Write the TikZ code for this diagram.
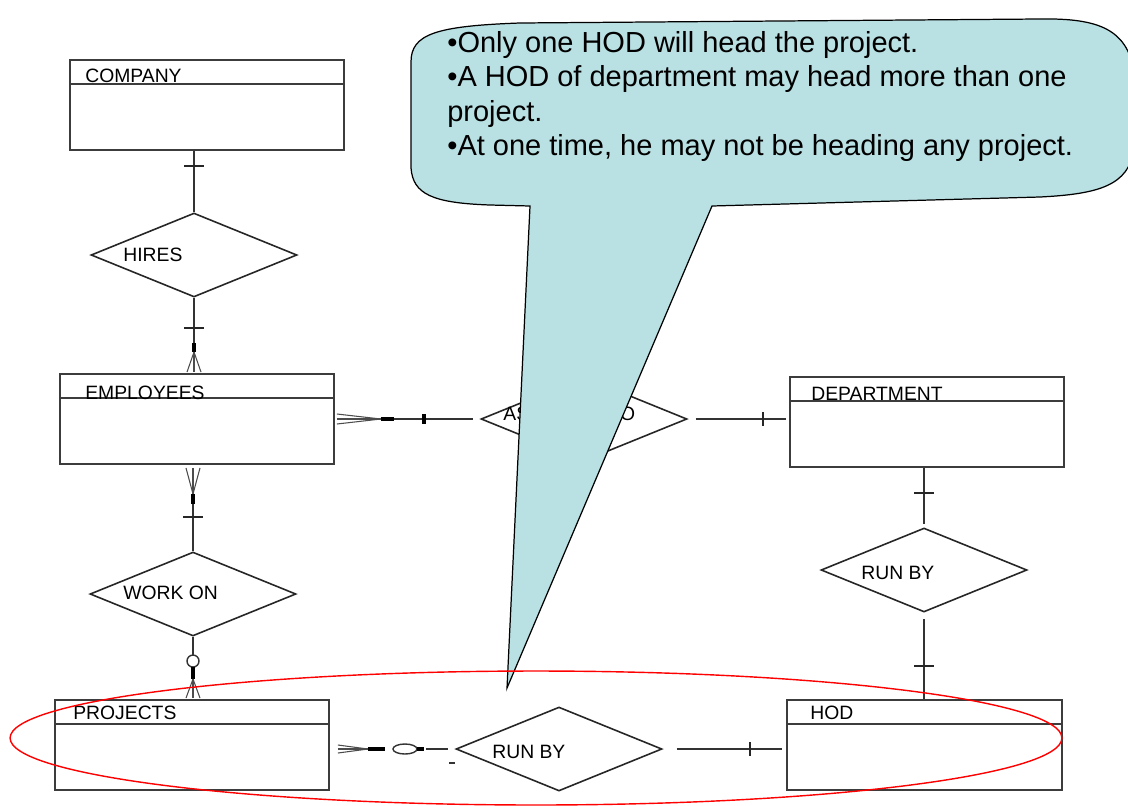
\documentclass[tikz,border=0pt]{standalone}
\usepackage{fontspec}
\setmainfont{Liberation Sans}
\usetikzlibrary{shapes.geometric,calc}
\definecolor{callfill}{RGB}{185,224,227}
\definecolor{lineg}{RGB}{60,60,60}
\begin{document}
\begin{tikzpicture}[x=0.02cm,y=-0.02cm,
  entity/.style={draw=lineg,line width=1.1pt,minimum width=5.48cm,minimum height=1.8cm,inner sep=0pt,fill=white},
  hdr/.style={draw=lineg,line width=1pt},
  rel/.style={shape=diamond,draw=black!85,line width=0.9pt,minimum width=4.12cm,minimum height=1.68cm,inner sep=0pt},
  lbl/.style={anchor=base west,inner sep=0pt,font=\fontsize{11}{13}\selectfont},
  conn/.style={draw=black!80,line width=0.8pt},
  tickmark/.style={draw=black!85,line width=0.9pt},
  barmark/.style={draw=black,line width=2.6pt},
  prong/.style={draw=black!70,line width=0.6pt},
  callout/.style={fill=callfill,draw=black,line width=0.7pt},
  notetext/.style={anchor=north west,inner sep=0pt,align=left,font=\fontsize{16.5}{19.6}\selectfont}
]
\clip (0,0) rectangle (1128,805);
\fill[white] (0,0) rectangle (1128,805);

% entities
\node[entity] (COMPANY) at (207,105) {};
\node[entity] (EMPLOYEES) at (197,419) {};
\node[entity] (DEPARTMENT) at (927,422) {};
\node[entity] (PROJECTS) at (192,745) {};
\node[entity,minimum width=5.5cm] (HOD) at (924.5,745) {};
\foreach \e in {COMPANY,EMPLOYEES,DEPARTMENT,PROJECTS,HOD}
  \draw[hdr] ($(\e.north west)+(0,25)$) -- ($(\e.north east)+(0,25)$);
\node[lbl] (tCOMPANY) at (85,82) {COMPANY};
\node[lbl] (tEMPLOYEES) at (85,399) {EMPLOYEES};
\node[lbl] (tDEPARTMENT) at (811,400) {DEPARTMENT};
\node[lbl] (tPROJECTS) at (73,719) {PROJECTS};
\node[lbl] (tHOD) at (810,719) {HOD};

% relationships
\node[rel] (HIRES) at (194,255) {};
\node[rel] (ASSIGNED) at (584,419) {};
\node[rel] (WORKON) at (193,594) {};
\node[rel] (RUNBYA) at (924,570) {};
\node[rel] (RUNBYB) at (559,749) {};
\node[lbl] (tHIRES) at (123,261) {HIRES};
\node[lbl] (tASSIGNED) at (503,420) {ASSIGNED TO};
\node[lbl] (tWORKON) at (123,599) {WORK ON};
\node[lbl] (tRUNBYA) at (861,579) {RUN BY};
\node[lbl] (tRUNBYB) at (492,758) {RUN BY};

% COMPANY - HIRES
\coordinate (c1) at (HIRES.north |- COMPANY.south);
\draw[conn] (c1) -- (HIRES.north);
\draw[tickmark] ($(c1)+(-10,15)$) -- ($(c1)+(10,15)$);

% HIRES - EMPLOYEES
\coordinate (e1) at (HIRES.south |- EMPLOYEES.north);
\draw[conn] (HIRES.south) -- ($(e1)+(0,-30)$);
\draw[tickmark] ($(e1)+(-10,-45)$) -- ($(e1)+(10,-45)$);
\draw[barmark,line width=2pt] ($(e1)+(0,-30)$) -- ($(e1)+(0,-21)$);
\draw[prong] ($(e1)+(0,-21)$) -- ($(e1)+(-7,-1)$);
\draw[prong] ($(e1)+(0,-21)$) -- ($(e1)+(0,-1)$);
\draw[prong] ($(e1)+(0,-21)$) -- ($(e1)+(7,-1)$);

% EMPLOYEES - ASSIGNED TO
\coordinate (a1) at (EMPLOYEES.east |- ASSIGNED.west);
\draw[prong] ($(a1)+(2,-5)$) -- ($(a1)+(46,0)$);
\draw[prong] ($(a1)+(2,0)$) -- ($(a1)+(46,0)$);
\draw[prong] ($(a1)+(2,5)$) -- ($(a1)+(46,0)$);
\draw[barmark,line width=2pt] ($(a1)+(46,0)$) -- ($(a1)+(59,0)$);
\draw[conn] ($(a1)+(59,0)$) -- ($(ASSIGNED.west)+(-7,0)$);
\draw[barmark] ($(a1)+(89,-5)$) -- ($(a1)+(89,5)$);

% ASSIGNED TO - DEPARTMENT
\coordinate (a2) at (DEPARTMENT.west |- ASSIGNED.east);
\draw[conn] ($(ASSIGNED.east)+(8,0)$) -- ($(a2)+(-3,0)$);
\draw[tickmark] ($(a2)+(-26,-7)$) -- ($(a2)+(-26,7)$);

% EMPLOYEES - WORK ON
\coordinate (w1) at (WORKON.north |- EMPLOYEES.south);
\draw[prong] ($(w1)+(-7,3)$) -- ($(w1)+(0,29)$);
\draw[prong] ($(w1)+(0,3)$) -- ($(w1)+(0,29)$);
\draw[prong] ($(w1)+(7,3)$) -- ($(w1)+(0,29)$);
\draw[barmark,line width=2pt] ($(w1)+(0,29)$) -- ($(w1)+(0,39)$);
\draw[conn] ($(w1)+(0,39)$) -- (WORKON.north);
\draw[tickmark,line width=1.3pt] ($(w1)+(-10,52)$) -- ($(w1)+(10,52)$);

% WORK ON - PROJECTS
\coordinate (p1) at (WORKON.south |- PROJECTS.north);
\draw[conn] (WORKON.south) -- ($(p1)+(0,-44)$);
\draw[conn] ($(p1)+(0,-38)$) circle[radius=6];
\draw[barmark,line width=2pt] ($(p1)+(0,-32)$) -- ($(p1)+(0,-20)$);
\draw[prong] ($(p1)+(0,-20)$) -- ($(p1)+(-7,-1)$);
\draw[prong] ($(p1)+(0,-20)$) -- ($(p1)+(0,-1)$);
\draw[prong] ($(p1)+(0,-20)$) -- ($(p1)+(7,-1)$);

% DEPARTMENT - RUN BY
\coordinate (d1) at (RUNBYA.north |- DEPARTMENT.south);
\draw[conn] (d1) -- ($(RUNBYA.north)+(0,-3)$);
\draw[tickmark] ($(d1)+(-10,25)$) -- ($(d1)+(10,25)$);

% RUN BY - HOD
\coordinate (h1) at (RUNBYA.south |- HOD.north);
\draw[conn] ($(RUNBYA.south)+(0,6)$) -- (h1);
\draw[tickmark] ($(h1)+(-10,-33)$) -- ($(h1)+(10,-33)$);

% PROJECTS - RUN BY
\coordinate (r1) at (PROJECTS.east |- RUNBYB.west);
\draw[prong] ($(r1)+(8,-4)$) -- ($(r1)+(38,0)$);
\draw[prong] ($(r1)+(8,0)$) -- ($(r1)+(38,0)$);
\draw[prong] ($(r1)+(8,4)$) -- ($(r1)+(38,0)$);
\draw[barmark,line width=2pt] ($(r1)+(38,0)$) -- ($(r1)+(55,0)$);
\draw[conn] ($(r1)+(75,0)$) ellipse[x radius=12,y radius=5];
\draw[barmark,line width=2pt] ($(r1)+(87,0)$) -- ($(r1)+(94,0)$);
\draw[conn] ($(r1)+(96,0)$) -- ($(RUNBYB.west)+(-7,0)$);
\draw[conn] ($(RUNBYB.west)+(-6,14)$) -- ($(RUNBYB.west)+(0,14)$);

% RUN BY - HOD
\coordinate (h2) at (HOD.west |- RUNBYB.east);
\draw[conn] ($(RUNBYB.east)+(14,0)$) -- ($(h2)+(-4,0)$);
\draw[tickmark] ($(h2)+(-36,-7)$) -- ($(h2)+(-36,7)$);

% callout
\path[callout] (411,62) .. controls (411,34) and (436,26) .. (520,23)
  -- (1040,19) .. controls (1100,18) and (1126,30) .. (1134,70)
  -- (1134,150) .. controls (1128,185) and (1100,194) .. (1040,197)
  -- (712,206) -- (507,688) -- (530,206) -- (490,205)
  .. controls (432,203) and (413,194) .. (411,168) -- cycle;
\node[notetext] (note) at (447,31) {%
  •Only one HOD will head the project.\\
  •A HOD of department may head more than one\\
  project.\\
  •At one time, he may not be heading any project.};

% highlight ellipse
\node[draw=red,line width=0.8pt,shape=ellipse,minimum width=21.04cm,minimum height=2.68cm,inner sep=0pt] (focus) at (536,738) {};
\end{tikzpicture}
\end{document}
